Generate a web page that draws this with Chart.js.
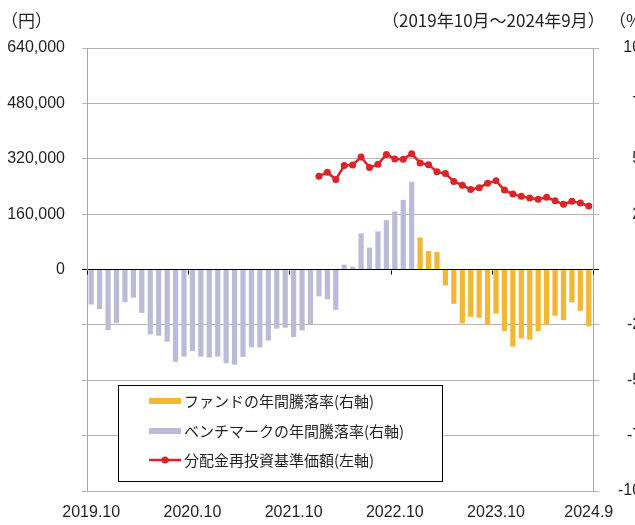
<!DOCTYPE html>
<html lang="ja">
<head>
<meta charset="utf-8">
<script src="https://cdn.jsdelivr.net/npm/chart.js@4/dist/chart.umd.min.js"></script>
<style>
  html, body { margin: 0; padding: 0; background: #fff; overflow: hidden; }
  #wrap { position: relative; width: 650px; height: 525px; }
  .cap { position: absolute; top: 10px; font-family: "Noto Sans CJK JP"; font-size: 17px; line-height: 20px; color: #231f20; white-space: nowrap; }
</style>
</head>
<body>
<div id="wrap">
  <canvas id="chart" width="650" height="525"></canvas>
  <div class="cap" style="left:1px">（円）</div>
  <div class="cap" style="left:382px">（2019年10月～2024年9月）</div>
  <div class="cap" style="left:609px">（%）</div>
</div>
<script>
// month slots, 2019.10 - 2024.9
const months = [
  "2019.10","2019.11","2019.12",
  "2020.1","2020.2","2020.3","2020.4","2020.5","2020.6","2020.7","2020.8","2020.9","2020.10","2020.11","2020.12",
  "2021.1","2021.2","2021.3","2021.4","2021.5","2021.6","2021.7","2021.8","2021.9","2021.10","2021.11","2021.12",
  "2022.1","2022.2","2022.3","2022.4","2022.5","2022.6","2022.7","2022.8","2022.9","2022.10","2022.11","2022.12",
  "2023.1","2023.2","2023.3","2023.4","2023.5","2023.6","2023.7","2023.8","2023.9","2023.10","2023.11","2023.12",
  "2024.1","2024.2","2024.3","2024.4","2024.5","2024.6","2024.7","2024.8","2024.9"
];
const xTickLabels = ["2019.10", "2020.10", "2021.10", "2022.10", "2023.10", "2024.9"];

// benchmark annual return (%), from 2019.10
const benchStart = "2019.10";
const benchReturn = [
  -15.8, -17.9, -27.3, -24.2, -14.8, -12.7, -19.6, -29.3, -29.9, -32.6,
  -41.7, -39.3, -36.8, -39.3, -39.7, -39.3, -42.3, -43.0, -39.5, -35.1,
  -35.2, -32.1, -26.7, -26.3, -30.5, -27.5, -24.7, -12.1, -13.5, -18.2,
  2.2, 1.3, 16.3, 9.9, 17.2, 22.3, 26.2, 31.4, 39.6
];

// fund annual return (%), from 2023.1
const fundStart = "2023.1";
const fundReturn = [
  14.5, 8.4, 7.9, -7.2, -15.5, -24.3, -21.4, -21.8, -25.1, -19.9,
  -27.8, -34.8, -31.1, -31.7, -27.8, -24.8, -20.9, -22.9, -14.8, -18.7, -25.7
];

// NAV with dividends reinvested (yen), from 2022.1
const navStart = "2022.1";
const navValue = [
  269500, 281000, 260000, 300200, 302200, 325100, 294500, 303900, 332600, 319400,
  318300, 334600, 308000, 303000, 282100, 277300, 254300, 243700, 231400, 236300,
  249500, 256300, 229400, 217900, 211300, 206500, 202700, 208500, 199000, 188400,
  197000, 192100, 183500
];

function toPoints(start, values) {
  const s = months.indexOf(start);
  return values.map((v, i) => ({ x: s + i + 0.5, y: v }));
}

const gridColor = "#b4b4b4";
const textColor = "#231f20";
const tickFont = { family: "Liberation Sans", size: 16 };

const zeroTicks = {
  id: "zeroTicks",
  afterDatasetsDraw(chart) {
    const { ctx, scales } = chart;
    const y0 = Math.round(scales.y.getPixelForValue(0)) + 0.5;
    ctx.save();
    ctx.strokeStyle = "#000";
    ctx.lineWidth = 1;
    ctx.beginPath();
    for (let k = 0; k <= 60; k += 12) {
      const x = Math.round(scales.x.getPixelForValue(k)) + 0.5;
      ctx.moveTo(x, y0);
      ctx.lineTo(x, y0 + 4);
    }
    ctx.stroke();
    ctx.restore();
  }
};

const legendBox = {
  id: "legendBox",
  afterDraw(chart) {
    const ctx = chart.ctx;
    const ds = chart.data.datasets;
    const order = [1, 2, 0];
    const rowY = [401, 431, 460];
    ctx.save();
    ctx.fillStyle = "#fff";
    ctx.fillRect(118.5, 385.5, 324, 96);
    ctx.strokeStyle = "#000";
    ctx.lineWidth = 1;
    ctx.strokeRect(118.5, 385.5, 324, 96);
    ctx.font = '15px "Noto Sans CJK JP"';
    ctx.textBaseline = "middle";
    order.forEach((di, r) => {
      const d = ds[di];
      const y = rowY[r];
      if (d.type === "line") {
        ctx.strokeStyle = d.borderColor;
        ctx.lineWidth = 2.5;
        ctx.beginPath();
        ctx.moveTo(149, y);
        ctx.lineTo(181, y);
        ctx.stroke();
        ctx.fillStyle = d.borderColor;
        ctx.beginPath();
        ctx.arc(165, y, 3.5, 0, Math.PI * 2);
        ctx.fill();
      } else {
        ctx.fillStyle = d.backgroundColor;
        ctx.fillRect(149, y - 3, 32, 6);
      }
      ctx.fillStyle = textColor;
      ctx.fillText(d.label, 184, y);
    });
    ctx.restore();
  }
};

new Chart(document.getElementById("chart"), {
  data: {
    datasets: [
      {
        type: "line",
        label: "分配金再投資基準価額(左軸)",
        data: toPoints(navStart, navValue),
        yAxisID: "y",
        borderColor: "#dc2327",
        backgroundColor: "#dc2327",
        borderWidth: 2.5,
        pointRadius: 3.5,
        pointBackgroundColor: "#dc2327",
        pointBorderWidth: 0,
        tension: 0,
        order: 0
      },
      {
        type: "bar",
        label: "ファンドの年間騰落率(右軸)",
        data: toPoints(fundStart, fundReturn),
        yAxisID: "y1",
        backgroundColor: "#f2b733",
        grouped: false,
        barPercentage: 0.62,
        categoryPercentage: 1,
        order: 1
      },
      {
        type: "bar",
        label: "ベンチマークの年間騰落率(右軸)",
        data: toPoints(benchStart, benchReturn),
        yAxisID: "y1",
        backgroundColor: "#bdbad7",
        grouped: false,
        barPercentage: 0.62,
        categoryPercentage: 1,
        order: 2
      }
    ]
  },
  options: {
    responsive: false,
    animation: false,
    layout: { padding: { top: 48, left: 0, right: 0, bottom: 0 } },
    plugins: {
      legend: { display: false },
      tooltip: { enabled: false }
    },
    scales: {
      x: {
        type: "linear",
        min: 0,
        max: 60,
        offset: false,
        afterBuildTicks: (axis) => {
          axis.ticks = xTickLabels.map((l) => ({ value: months.indexOf(l) + 0.5 }));
        },
        afterFit: (axis) => { axis.height = 34; },
        grid: { display: false, drawTicks: false },
        border: { display: false },
        ticks: {
          autoSkip: false,
          maxRotation: 0,
          padding: 12,
          color: textColor,
          font: tickFont,
          callback: (v, i) => xTickLabels[i]
        }
      },
      y: {
        position: "left",
        min: -640000,
        max: 640000,
        afterFit: (axis) => { axis.width = 87; },
        grid: {
          color: (c) => (c.tick && c.tick.value === 0 ? "#000" : gridColor),
          tickLength: 5
        },
        border: { display: true, color: "#a8a8a8" },
        ticks: {
          stepSize: 160000,
          padding: 17,
          color: textColor,
          font: tickFont,
          callback: (v) => (v >= 0 ? v.toLocaleString("en-US") : "")
        }
      },
      y1: {
        position: "right",
        min: -100,
        max: 100,
        afterFit: (axis) => { axis.width = 57; },
        grid: {
          drawOnChartArea: false,
          color: (c) => (c.tick && c.tick.value === 0 ? "#000" : gridColor),
          tickLength: 6
        },
        border: { display: true, color: "#a8a8a8" },
        ticks: {
          stepSize: 25,
          padding: 20,
          crossAlign: "far",
          color: textColor,
          font: tickFont,
          callback: (v) => (v === 0 ? "" : v)
        }
      }
    }
  },
  plugins: [zeroTicks, legendBox]
});
</script>
</body>
</html>
